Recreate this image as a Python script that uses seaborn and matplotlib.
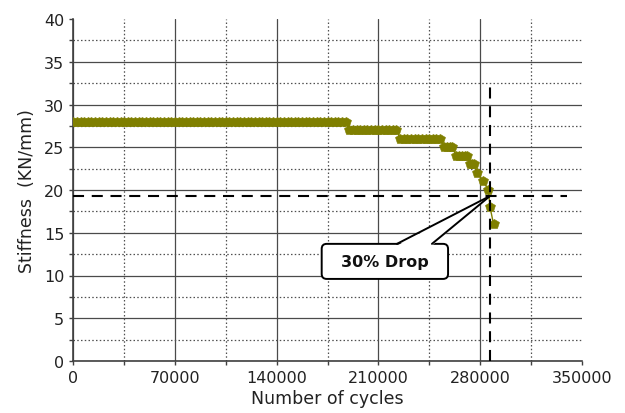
import matplotlib
matplotlib.use("Agg")
import matplotlib.pyplot as plt
from matplotlib.patches import FancyBboxPatch, Polygon
from matplotlib.ticker import MultipleLocator
import pandas as pd
import seaborn as sns

# Stiffness readings during the fatigue test (one reading every 2500 cycles
# on the plateaus, then at each drop of the last stage)
cycles = [
    0, 2500, 5000, 7500, 10000, 12500, 15000, 17500, 20000, 22500,
    25000, 27500, 30000, 32500, 35000, 37500, 40000, 42500, 45000, 47500,
    50000, 52500, 55000, 57500, 60000, 62500, 65000, 67500, 70000, 72500,
    75000, 77500, 80000, 82500, 85000, 87500, 90000, 92500, 95000, 97500,
    100000, 102500, 105000, 107500, 110000, 112500, 115000, 117500, 120000, 122500,
    125000, 127500, 130000, 132500, 135000, 137500, 140000, 142500, 145000, 147500,
    150000, 152500, 155000, 157500, 160000, 162500, 165000, 167500, 170000, 172500,
    175000, 177500, 180000, 182500, 185000, 187500,
    190000, 192500, 195000, 197500, 200000, 202500, 205000, 207500, 210000, 212500,
    215000, 217500, 220000, 222500,
    225000, 227500, 230000, 232500, 235000, 237500, 240000, 242500, 245000, 247500,
    250000, 252500,
    255000, 257000, 259000, 261000,
    263500, 265500, 267500, 269500, 271000,
    273000, 274500, 276000,
    278200,
    282300,
    285700,
    286900,
    289300,
]
stiffness = [
    28, 28, 28, 28, 28, 28, 28, 28, 28, 28,
    28, 28, 28, 28, 28, 28, 28, 28, 28, 28,
    28, 28, 28, 28, 28, 28, 28, 28, 28, 28,
    28, 28, 28, 28, 28, 28, 28, 28, 28, 28,
    28, 28, 28, 28, 28, 28, 28, 28, 28, 28,
    28, 28, 28, 28, 28, 28, 28, 28, 28, 28,
    28, 28, 28, 28, 28, 28, 28, 28, 28, 28,
    28, 28, 28, 28, 28, 28,
    27, 27, 27, 27, 27, 27, 27, 27, 27, 27,
    27, 27, 27, 27,
    26, 26, 26, 26, 26, 26, 26, 26, 26, 26,
    26, 26,
    25, 25, 25, 25,
    24, 24, 24, 24, 24,
    23, 23, 23,
    22,
    21,
    20,
    18,
    16,
]

# Failure criterion: 30 % loss of initial stiffness
failure_cycles = 286900
failure_stiffness = 19.3
drop_label = "30% Drop"

x_ticks = [0, 70000, 140000, 210000, 280000, 350000]
y_ticks = [0, 5, 10, 15, 20, 25, 30, 35, 40]

olive = "#7f7f00"
grid_dark = "#4a4a4a"

sns.set_style("white")
plt.rcParams["font.family"] = ["DejaVu Sans"]

W, H = 625, 414
fig = plt.figure(figsize=(W / 100, H / 100), dpi=100)
ax_left, ax_right, ax_top, ax_bottom = 73.3, 581.7, 20.0, 362.0
ax = fig.add_axes([ax_left / W, 1 - ax_bottom / H,
                   (ax_right - ax_left) / W, (ax_bottom - ax_top) / H])

df = pd.DataFrame({"cycles": cycles, "stiffness": stiffness})
sns.lineplot(data=df, x="cycles", y="stiffness", ax=ax, color=olive,
             linewidth=1.0, marker="p", markersize=7.3,
             markeredgecolor=olive, markeredgewidth=0.4, zorder=3)

ax.set_xlim(x_ticks[0], x_ticks[-1])
ax.set_ylim(y_ticks[0], y_ticks[-1])
ax.set_xticks(x_ticks)
ax.set_xticklabels([str(t) for t in x_ticks])
ax.set_yticks(y_ticks)
ax.set_yticklabels([str(t) for t in y_ticks])
ax.xaxis.set_minor_locator(MultipleLocator(35000))
ax.yaxis.set_minor_locator(MultipleLocator(2.5))

# grid: solid majors, dotted minors; none along the top and right edges
ax.grid(True, which="major", color=grid_dark, linewidth=0.9, linestyle="-", zorder=0)
ax.grid(True, which="minor", color="#505050", linewidth=0.9,
        linestyle=(0, (1.2, 1.8)), zorder=0)
ax.set_axisbelow(True)
for tick, loc in zip(ax.xaxis.get_major_ticks(), x_ticks):
    if loc == x_ticks[-1]:
        tick.gridline.set_visible(False)
for tick, loc in zip(ax.yaxis.get_major_ticks(), y_ticks):
    if loc == y_ticks[-1]:
        tick.gridline.set_visible(False)

for side in ("top", "right"):
    ax.spines[side].set_visible(False)
for side in ("left", "bottom"):
    ax.spines[side].set_color("#404040")
    ax.spines[side].set_linewidth(1.2)

ax.tick_params(which="both", direction="out", length=3, width=1.0,
               color="#404040", left=True, bottom=True)
ax.tick_params(which="major", labelsize=11.5, labelcolor="#222222", pad=3.5)

ax.set_xlabel("Number of cycles", fontsize=12.5, color="#222222", labelpad=3)
ax.set_ylabel("Stiffness  (KN/mm)", fontsize=12.5, color="#222222", labelpad=6)

# failure reference lines
ax.vlines(failure_cycles, 0, 32, colors="black", linewidth=1.5,
          linestyles=(0, (5.3, 3.7)), zorder=4)
ax.hlines(failure_stiffness, 0, 340000, colors="black", linewidth=1.5,
          linestyles=(0, (5.3, 3.7)), zorder=4)

# callout box with a pointer to the failure point
x_per_px = (x_ticks[-1] - x_ticks[0]) / (ax_right - ax_left)
y_per_px = (y_ticks[-1] - y_ticks[0]) / (ax_bottom - ax_top)
aspect = y_per_px / x_per_px
box_x0, box_x1 = 171000, 258000
box_y0, box_y1 = 9.6, 13.7
box = FancyBboxPatch((box_x0, box_y0), box_x1 - box_x0, box_y1 - box_y0,
                     boxstyle=f"round,pad=0,rounding_size={5 * x_per_px}",
                     mutation_aspect=aspect, facecolor="white",
                     edgecolor="black", linewidth=1.4, zorder=5)
ax.add_patch(box)
base_l, base_r = 222800, 246900
wedge = Polygon([(base_l, box_y1 - 0.2), (base_r, box_y1 - 0.2),
                 (failure_cycles, failure_stiffness)],
                closed=True, facecolor="white", edgecolor="none", zorder=6)
ax.add_patch(wedge)
ax.plot([base_l, failure_cycles], [box_y1, failure_stiffness],
        color="black", linewidth=1.4, zorder=7, solid_capstyle="round")
ax.plot([base_r, failure_cycles], [box_y1, failure_stiffness],
        color="black", linewidth=1.4, zorder=7, solid_capstyle="round")
ax.text((box_x0 + box_x1) / 2, (box_y0 + box_y1) / 2, drop_label,
        ha="center", va="center", fontsize=11.5, fontweight="bold",
        color="#111111", zorder=8)

fig.savefig("out.png", dpi=100)
